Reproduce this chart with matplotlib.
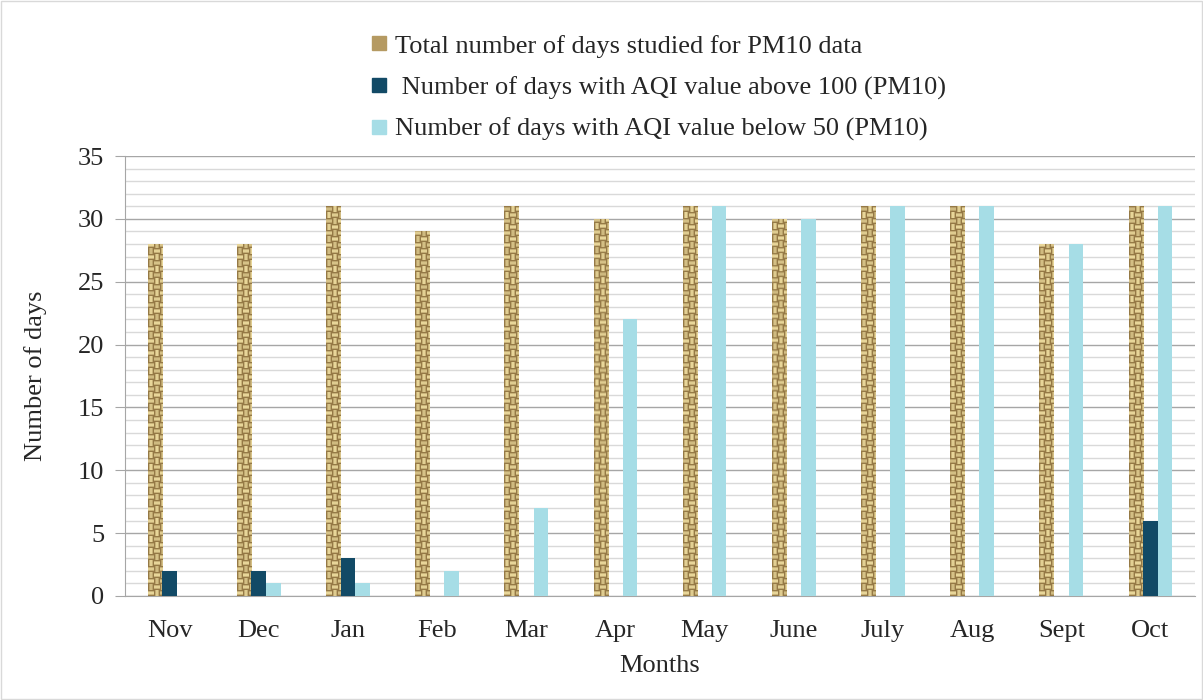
import numpy as np
import matplotlib
matplotlib.use("Agg")
import matplotlib.pyplot as plt
from matplotlib.lines import Line2D
from matplotlib.patches import Rectangle

months = ["Nov", "Dec", "Jan", "Feb", "Mar", "Apr", "May", "June", "July", "Aug", "Sept", "Oct"]
total_days = [28, 28, 31, 29, 31, 30, 31, 30, 31, 31, 28, 31]
above_100 = [2, 2, 3, 0, 0, 0, 0, 0, 0, 0, 0, 6]
below_50 = [0, 1, 1, 2, 7, 22, 31, 30, 31, 31, 28, 31]
labels = ["Total number of days studied for PM10 data",
          " Number of days with AQI value above 100 (PM10)",
          "Number of days with AQI value below 50 (PM10)"]

plt.rcParams['font.family'] = ['Liberation Serif', 'DejaVu Serif']

fig = plt.figure(figsize=(12.03, 7.0), dpi=100)
ax = fig.add_axes([0.1039, 0.1486, 0.8895, 0.6285])

# burlap-like weave texture (styling only), built in pixel units
def weave(h, w, b=6):
    yy, xx = np.mgrid[0:h, 0:w]
    bi, bj = yy // b, xx // b
    fy, fx = (yy % b) / (b - 1), (xx % b) / (b - 1)
    horiz = ((bi + bj) % 2 == 0)
    prof = np.where(horiz, np.sin(np.pi * fy), np.sin(np.pi * fx))
    alt = 0.85 + 0.15 * np.cos((bi * 3 + bj * 5) % 7)
    t = np.clip(0.25 + 0.75 * prof * alt, 0, 1)
    light = np.array([0.93, 0.86, 0.62])
    dark = np.array([0.47, 0.35, 0.16])
    return dark[None, None, :] * (1 - t[..., None]) + light[None, None, :] * t[..., None]

x = np.arange(len(months))
w = 0.163
navy = "#124a66"
lightblue = "#a6dde6"

bars_total = ax.bar(x - w, total_days, w, color="#c9b27c", linewidth=0, zorder=2)
px_per_unit = 440 / 35.0
for b in bars_total:
    x0, y0 = b.get_x(), b.get_y()
    h = b.get_height()
    tex = weave(max(int(round(h * px_per_unit)), 2), 15)
    im = ax.imshow(tex, extent=[x0, x0 + b.get_width(), y0, y0 + h],
                   aspect='auto', interpolation='bilinear', zorder=3, origin='lower')
    im.set_clip_path(b)
ax.bar(x, above_100, w, color=navy, linewidth=0, zorder=3)
ax.bar(x + w, below_50, w, color=lightblue, linewidth=0, zorder=3)

ax.set_xlim(-0.5, len(months) - 0.5)
ax.set_ylim(0, 35)
ax.set_yticks(np.arange(0, 36, 5))
ax.set_yticks(np.arange(0, 36, 1), minor=True)
ax.grid(axis='y', which='major', color='#a6a6a6', linewidth=1.0, zorder=0)
ax.grid(axis='y', which='minor', color='#d9d9d9', linewidth=1.0, zorder=0)
ax.set_axisbelow(True)
ax.set_xticks(x)
ax.set_xticklabels(months)
ax.tick_params(axis='x', length=0, labelsize=19, pad=17, colors='#262626')
ax.tick_params(axis='y', which='major', length=7, color='#a6a6a6', labelsize=19,
               labelcolor='#262626', pad=8)
ax.tick_params(axis='y', which='minor', length=0)
for s in ['top', 'right']:
    ax.spines[s].set_visible(False)
ax.spines['left'].set_color('#a6a6a6')
ax.spines['bottom'].set_color('#a6a6a6')

ax.set_ylabel("Number of days", fontsize=19, color='#262626', labelpad=22)
ax.set_xlabel("Months", fontsize=19, color='#262626', labelpad=10)

handles = [Line2D([], [], marker='s', linestyle='none', markersize=10, color='#b59a62'),
           Line2D([], [], marker='s', linestyle='none', markersize=10, color=navy),
           Line2D([], [], marker='s', linestyle='none', markersize=10, color=lightblue)]
leg = fig.legend(handles, labels, loc='upper center', bbox_to_anchor=(0.545, 0.985),
                 frameon=False, fontsize=19, labelspacing=0.68, handletextpad=0.1,
                 handlelength=1.0, labelcolor='#262626')

fig.add_artist(Rectangle((0.001, 0.001), 0.998, 0.998, transform=fig.transFigure,
                         fill=False, edgecolor='#d9d9d9', linewidth=1))

fig.savefig("out.png", dpi=100)
